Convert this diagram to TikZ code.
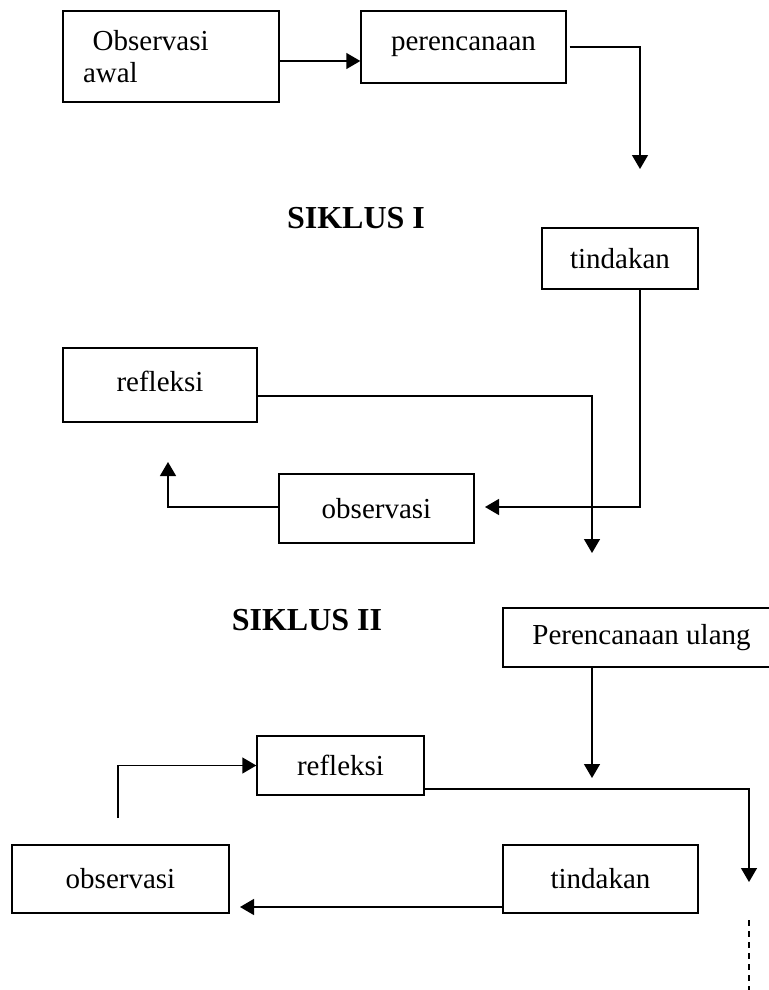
\documentclass[tikz,border=0pt]{standalone}
\usepackage{fontspec}
\setmainfont{Liberation Serif}
\usetikzlibrary{arrows.meta}

\begin{document}
\begin{tikzpicture}[x=0.5pt, y=-0.5pt, line width=0.7pt,
        >={Triangle[length=7pt,width=8pt]},
        box/.style={draw, rectangle, inner sep=0pt, font=\fontsize{14.5}{16}\selectfont},
        title/.style={font=\fontsize{16}{18}\selectfont\bfseries}]
        \useasboundingbox (0,0) rectangle (768,990);

        % siklus I
        \node (obsawal) [box, minimum height=45.5pt, inner xsep=10pt, text width=88pt, align=left] at (171,56.5) {\ Observasi\\awal};
        \node (peren) [box, minimum width=102.5pt, minimum height=36pt] at (463.5,47) {perencanaan};
        \node (siklus1) [title] at (356,218) {SIKLUS I};
        \node (tind1) [box, minimum width=78pt, minimum height=30.5pt] at (620,258.5) {tindakan};
        \node (refl1) [box, minimum width=97pt, minimum height=37pt] at (160,385) {\raisebox{4pt}{refleksi}};
        \node (obs1) [box, minimum width=97.5pt, minimum height=34.5pt] at (376.5,508.5) {observasi};

        % siklus II
        \node (siklus2) [title] at (307,620) {SIKLUS II};
        \node (renul) [box, minimum width=138.5pt, minimum height=29.5pt] at (641.5,637.5) {Perencanaan ulang};
        \node (refl2) [box, minimum width=83.5pt, minimum height=29.5pt] at (340.5,765.5) {refleksi};
        \node (obs2) [box, minimum width=108.5pt, minimum height=34pt] at (120.5,879) {observasi};
        \node (tind2) [box, minimum width=97.5pt, minimum height=34pt] at (600.5,879) {tindakan};

        \coordinate (c1) at (640,169);
        \coordinate (c2) at (485,507);
        \coordinate (c3) at (592,553);
        \coordinate (c4) at (168,462);
        \coordinate (c5) at (592,778);
        \coordinate (c6) at (118,818);
        \coordinate (c7) at (749,882);
        \coordinate (c8) at (240,907);
        \coordinate (c9) at (749,920);
        \coordinate (c10) at (749,990);

        \draw[->] (obsawal.east |- 0,61) -- (peren.west |- 0,61);
        \draw[->] ([xshift=1.5pt]peren.east) -| (c1);
        \draw[->] (tind1.south -| c1) |- (c2);
        \draw[->] (refl1.east |- 0,396) -| (c3);
        \draw[->] (obs1.west |- 0,507) -| (c4);
        \draw[->] (renul.south -| c5) -- (c5);
        \draw[->] (c6) |- (refl2.west);
        \draw[->] (refl2.east |- 0,789) -| (c7);
        \draw[->] (tind2.west |- c8) -- (c8);
        \draw[dash pattern=on 3pt off 2.5pt] (c9) -- (c10);
    \end{tikzpicture}
\end{document}
